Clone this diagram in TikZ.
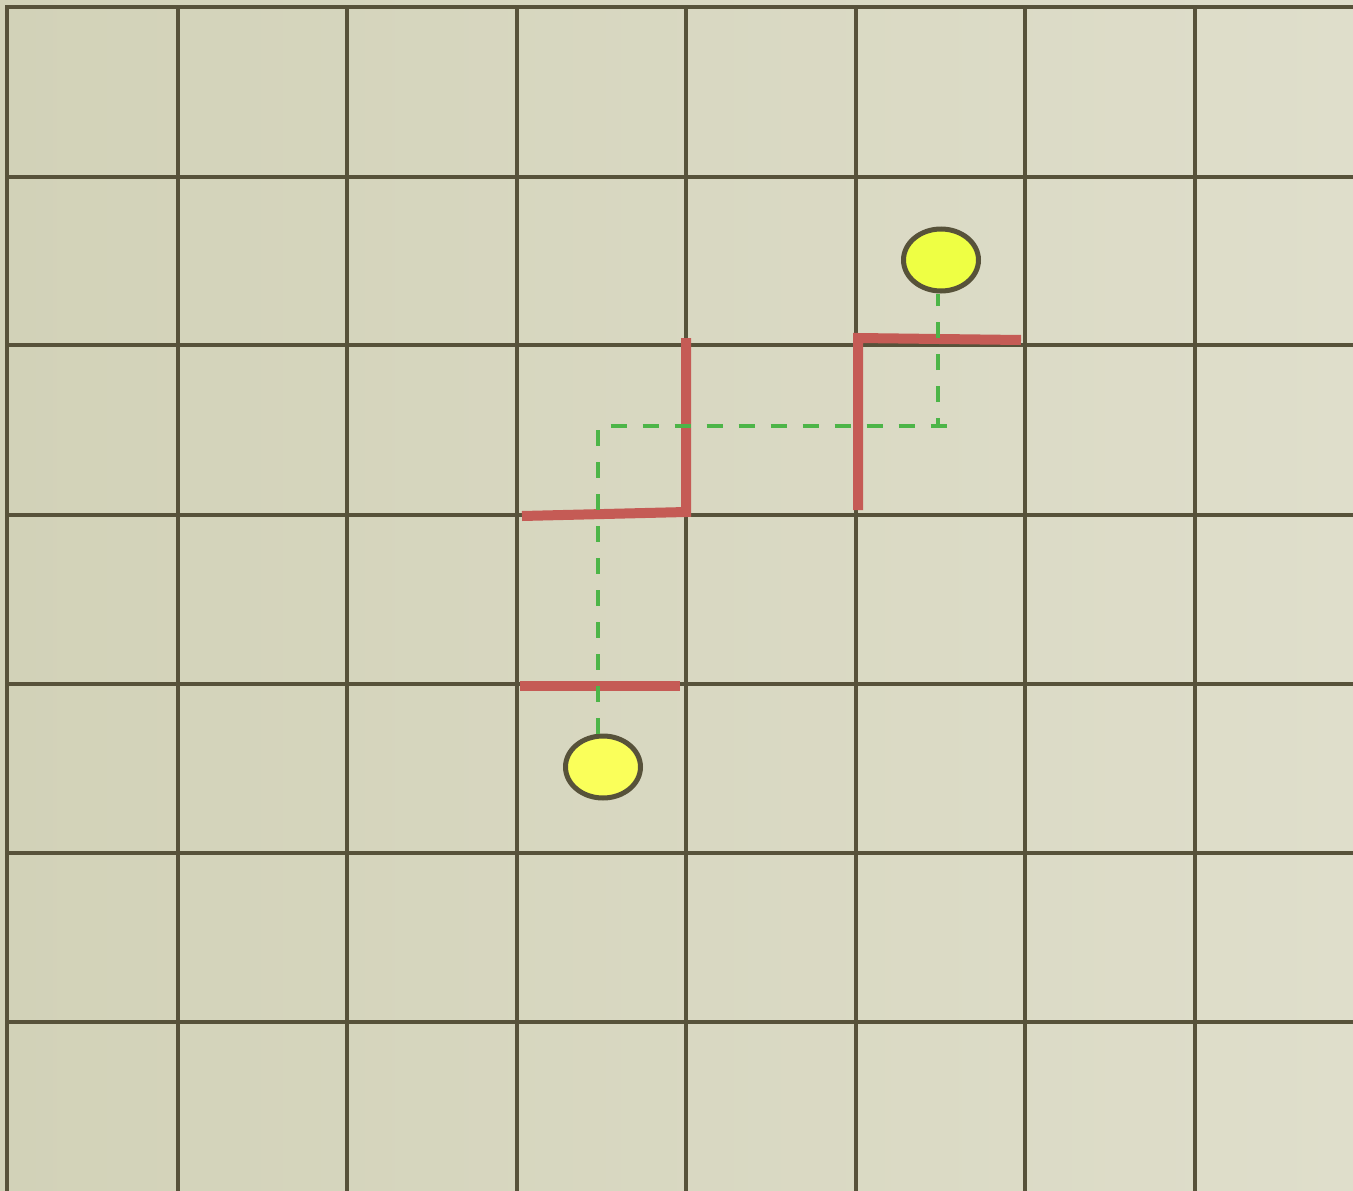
\documentclass[tikz,border=0pt]{standalone}
\usetikzlibrary{shapes.geometric}
\definecolor{bgA}{HTML}{D2D2B8}
\definecolor{bgB}{HTML}{DFDECB}
\definecolor{gridc}{HTML}{57523A}
\definecolor{wallc}{HTML}{C55B55}
\definecolor{pathc}{HTML}{4DB548}
\definecolor{dotA}{HTML}{EEFF44}
\definecolor{dotB}{HTML}{FAFF5A}
\tikzset{
  gridline/.style={draw=gridc, line width=4.5pt},
  wall/.style={draw=wallc, line width=10pt},
  route/.style={draw=pathc, line width=4pt, dash pattern=on 16pt off 16pt},
  dot/.style={ellipse, draw=gridc, line width=5pt, minimum width=75pt, minimum height=62pt, inner sep=0pt}
}
\begin{document}
\begin{tikzpicture}[x=1pt,y=-1pt]
\useasboundingbox (0,0) rectangle (1353,1191);
\shade[left color=bgA, right color=bgB] (0,0) rectangle (1353,1191);
% grid
\foreach \gx in {7,178,347,517,686,856,1025,1195}
  \draw[gridline] (\gx,5) -- (\gx,1191);
\foreach \gy in {7,177,345,515,684,853,1022}
  \draw[gridline] (5,\gy) -- (1353,\gy);
% walls
\draw[wall] (522,516) -- (686,512) -- (686,338);
\draw[wall] (858,510) -- (858,338) -- (1021,340);
\draw[wall] (520,686) -- (680,686);
% nodes
\node[dot, fill=dotA] (goal) at (941,260) {};
\node[dot, fill=dotB] (start) at (603,767) {};
\coordinate (c1) at (598,426);
\coordinate (c2) at (952,426);
\coordinate (c3) at (938,426);
% route
\draw[route] (start.north -| c1) -- (c1) -- (c2);
\draw[route, dash phase=8pt] (c3) -- (c3 |- goal.south);
\end{tikzpicture}
\end{document}
